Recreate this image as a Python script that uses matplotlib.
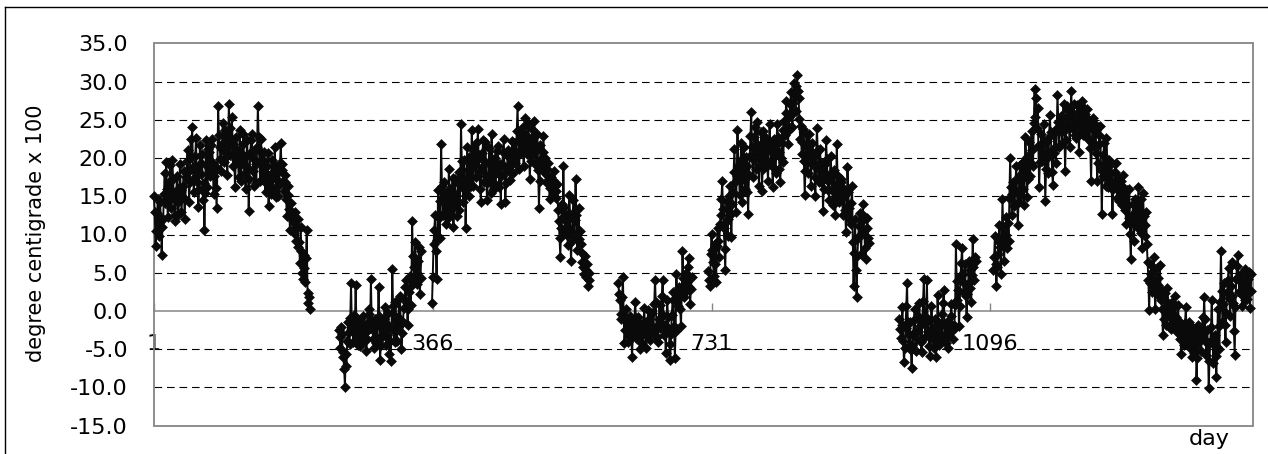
import numpy as np
import matplotlib
matplotlib.use("Agg")
import matplotlib.pyplot as plt
from matplotlib.lines import Line2D
from matplotlib.patches import Rectangle

# Daily temperature record; breaks between segments are missing records.
seg1_start = 1
seg1 = [15.0, 12.9, 8.5, 10.4, 12.8, 14.6, 11.5, 9.8, 14.2, 12.2, 7.3, 11.0, 12.0, 15.3,
        18.0, 14.1, 19.5, 16.0, 12.3, 14.4, 16.8, 19.1, 13.5, 15.7, 19.8, 17.2, 14.9, 12.6,
        11.8, 15.0, 17.6, 14.3, 12.5, 16.1, 19.2, 15.8, 13.0, 14.8, 16.4, 18.3, 12.0, 14.6,
        17.5, 19.6, 21.0, 18.2, 14.3, 16.9, 22.5, 20.1, 24.1, 18.8, 15.6, 17.4, 20.3, 22.6,
        16.8, 19.0, 13.6, 15.9, 21.7, 19.4, 17.9, 20.5, 14.5, 16.7, 10.6, 15.4, 22.3, 18.9,
        16.2, 21.2, 20.8, 17.6, 18.4, 21.7, 22.5, 19.3, 15.3, 17.7, 19.0, 16.1, 13.4, 18.6,
        26.8, 23.0, 21.5, 19.9, 18.3, 21.2, 24.6, 22.0, 19.5, 23.7, 22.8, 20.3, 17.8, 21.6,
        27.0, 23.9, 20.4, 22.2, 25.3, 21.8, 18.9, 20.6, 16.2, 19.7, 22.7, 21.0, 19.4, 17.5,
        23.6, 20.8, 17.0, 19.6, 21.8, 23.1, 19.1, 18.0, 16.0, 20.2, 22.4, 18.7, 13.1, 17.2,
        20.6, 22.3, 23.2, 20.0, 18.3, 16.4, 21.0, 19.2, 16.7, 21.5, 26.8, 22.7, 19.5, 17.0,
        22.5, 20.6, 17.3, 19.8, 20.8, 16.9, 15.6, 18.1, 18.9, 20.7, 13.7, 16.4, 17.2, 15.3,
        19.8, 18.0, 16.1, 17.9, 21.4, 19.0, 14.9, 17.1, 18.2, 15.0, 16.5, 19.3, 22.0, 18.4,
        19.2, 17.0, 15.7, 16.8, 17.8, 14.6, 12.4, 15.1, 16.3, 13.3, 10.6, 12.9, 14.1, 12.7,
        11.8, 10.2, 13.0, 11.4, 9.2, 10.9, 12.0, 8.4, 9.0, 6.3, 11.0, 7.9, 5.0, 4.2,
        7.3, 5.6, 3.8, 6.9, 10.6, 2.4, 1.0, 1.8, 0.3]

seg2_start = 243
seg2 = [-2.5, -3.4, -4.8, -2.1, -3.0, -5.3, -6.0, -7.6, -9.9, -5.6, -7.2, -3.9, -1.5, -2.7,
        -4.3, -0.9, 3.6, -1.7, -2.8, -4.1, -0.5, -2.3, 3.4, -1.4, -3.3, -4.5, -1.2, -2.6,
        -4.6, -3.1, -2.0, -4.0, -0.6, -1.9, -3.8, -2.8, -5.2, -3.6, -1.5, -0.4, 0.3, -2.2,
        4.2, -1.3, -2.4, -3.7, -4.9, -2.0, -1.0, -4.2, -3.5, -1.6, 3.1, -0.7, -6.4, -4.5,
        -2.2, -3.4, -3.0, -1.1, 0.5, -2.6, -4.4, -3.2, -1.8, -0.3, -5.6, -3.9, -6.5, -2.4,
        5.5, 0.7, -2.5, -4.1, 1.2, -0.9, -3.9, -2.1, -0.8, 1.6, 2.0, -1.4, -5.0, -2.9,
        -1.5, 0.4, 1.5, 3.2, 4.1, 1.0, -1.8, 0.3, 2.5, 4.6, 0.8, 3.3, 11.7, 7.2,
        5.8, 3.9, 9.0, 6.1, 3.5, 5.0, 6.5, 8.4, 2.2, 4.3, 7.8]

seg3_start = 365
seg3 = [1.0, 4.5, 8.8, 10.6, 12.5, 7.8, 4.2, 9.3, 15.8, 12.1, 9.5, 14.4, 21.8, 16.3,
        12.6, 14.9, 16.8, 13.0, 11.4, 15.6, 14.7, 12.2, 18.6, 16.0, 12.9, 14.1, 15.5, 17.4,
        11.0, 13.8, 17.3, 15.1, 14.0, 12.4, 16.9, 18.2, 13.2, 16.5, 24.4, 19.6, 16.1, 14.2,
        19.8, 17.0, 10.9, 15.8, 21.5, 18.4, 15.0, 20.1, 18.7, 16.3, 23.6, 21.2, 16.4, 18.9,
        20.2, 22.0, 17.5, 19.8, 23.8, 20.4, 18.2, 16.0, 14.3, 18.8, 20.6, 22.4, 16.9, 19.5,
        22.1, 17.7, 14.5, 16.8, 19.4, 21.3, 17.3, 15.4, 23.1, 19.9, 15.8, 18.5, 20.0, 16.6,
        18.1, 20.9, 21.6, 18.7, 16.2, 19.2, 14.0, 17.6, 19.2, 20.8, 22.5, 18.0, 14.3, 16.7,
        18.6, 20.3, 21.0, 18.8, 17.1, 19.9, 20.4, 22.2, 18.0, 20.6, 21.9, 19.3, 20.2, 23.5,
        26.8, 22.4, 18.5, 21.0, 23.4, 20.7, 21.1, 24.0, 19.0, 21.8, 25.2, 23.0, 22.6, 20.5,
        24.6, 21.9, 17.3, 19.6, 22.0, 23.8, 20.5, 22.7, 24.8, 20.9, 19.1, 21.4, 23.2, 18.4,
        13.5, 17.0, 21.7, 19.9, 18.6, 20.8, 22.9, 18.2, 20.0, 16.9, 17.8, 18.6, 19.4, 16.8,
        14.6, 16.1, 17.5, 15.9, 15.2, 17.1, 18.3, 16.4, 14.8, 15.7, 16.6, 13.2, 11.8, 9.6,
        7.1, 10.8, 14.0, 12.3, 18.9, 13.6, 10.2, 11.7, 12.5, 9.9, 8.6, 12.8, 15.2, 10.7,
        6.5, 9.1, 12.0, 14.5, 9.5, 11.9, 17.3, 12.6, 8.0, 10.3, 13.4, 9.4, 10.5, 8.7,
        7.6, 6.4, 5.8, 4.9, 7.2, 5.3, 4.4, 6.1, 3.3, 4.0, 5.0]

seg4_start = 609
seg4 = [3.6, 2.2, 1.5, -0.4, -1.0, 1.8, 4.4, -0.7, -4.2, -2.5, 0.2, -1.3, -2.1, -4.0,
        -3.3, -0.6, -1.4, -3.5, -6.0, -2.8, -2.5, -1.2, 1.2, -0.9, -3.6, -2.0, -0.8, -3.1,
        -5.0, -1.7, -1.9, -4.2, -3.0, -1.4, 0.4, -2.6, -4.9, -3.3, -2.2, 0.1, -1.1, -2.9,
        -3.8, -1.8, -0.3, -2.4, -2.7, 0.9, 4.1, 1.2, -2.0, -3.4, -4.0, -1.1, 0.8, -2.2,
        -1.6, 1.9, 4.0, -0.5, -3.1, -1.8, -5.5, -2.7, 1.5, -0.8, -2.4, -4.3, -6.4, -3.0,
        -0.5, 1.4, 2.5, -1.9, -6.2, -2.6, 4.9, 1.7, 0.6, 2.8, 3.2, 0.3, -2.0, 2.1,
        7.9, 4.3, 1.8, 3.5, 5.0, 2.6, 3.8, 5.8, 6.9, 3.1, 0.9, 2.9, 4.5]

seg5_start = 727
seg5 = [5.2, 4.1, 3.3, 7.5, 10.1, 8.0, 6.4, 4.6, 8.8, 6.2, 3.8, 8.5, 10.8, 9.2,
        7.0, 11.4, 12.5, 14.6, 17.0, 13.3, 10.9, 8.1, 5.4, 11.6, 14.2, 9.8, 12.0, 15.0,
        16.3, 12.7, 9.7, 14.0, 15.5, 18.2, 21.2, 16.8, 13.0, 17.6, 23.6, 19.0, 17.4, 15.1,
        19.8, 21.9, 14.2, 18.0, 21.5, 17.3, 16.0, 20.1, 19.0, 15.6, 12.7, 17.8, 20.2, 22.9,
        26.0, 21.4, 17.5, 19.7, 22.8, 24.1, 18.6, 20.9, 24.7, 21.7, 16.3, 19.1, 21.0, 23.4,
        15.7, 18.5, 23.5, 20.7, 19.4, 22.6, 22.1, 19.0, 17.0, 21.2, 24.4, 22.0, 19.6, 21.5,
        16.2, 18.8, 22.5, 20.3, 18.0, 21.7, 24.4, 22.8, 20.8, 18.6, 16.9, 20.0, 22.0, 23.6,
        19.5, 24.8, 23.0, 25.9, 27.5, 24.3, 21.8, 23.7, 25.4, 27.0, 28.6, 25.8, 24.0, 27.2,
        29.8, 28.1, 26.2, 29.4, 30.9, 28.8, 27.9, 25.1, 22.5, 24.2, 20.5, 22.1, 23.8, 19.6,
        15.2, 18.3, 21.4, 23.0, 18.0, 20.7, 23.2, 21.0, 16.4, 19.2, 22.0, 20.4, 19.3, 17.5,
        15.0, 20.6, 23.9, 21.1, 18.6, 16.8, 21.2, 19.4, 16.8, 18.7, 13.1, 16.0, 19.2, 17.4,
        22.3, 19.9, 17.0, 15.8, 14.5, 17.9, 20.2, 18.1, 15.8, 13.9, 18.4, 16.2, 12.5, 15.4,
        21.8, 17.7, 16.0, 14.3, 14.6, 16.9, 17.2, 14.8, 12.6, 15.9, 15.0, 13.2, 10.3, 12.8,
        18.8, 15.5, 13.5, 11.9, 11.4, 14.1, 16.4, 9.0, 3.3, 7.6, 12.0, 5.4, 1.8, 7.2,
        9.5, 11.1, 12.8, 10.0, 7.5, 11.7, 14.0, 12.4, 10.4, 8.2, 6.8, 10.9, 12.2, 9.6,
        8.9]

seg6_start = 977
seg6 = [-1.0, -2.4, -3.5, -1.8, 0.5, -3.9, -6.7, -4.8, -2.2, 0.6, 3.6, -1.5, -4.6, -3.2,
        -1.5, -5.1, -7.5, -4.4, -3.0, -1.2, 0.2, -2.7, -5.2, -3.6, -2.6, -0.7, 1.1, -2.0,
        -4.0, -5.4, -1.2, 1.3, 4.2, -0.9, -3.4, -1.6, 4.0, -1.1, -2.8, -4.6, -5.9, -3.3,
        0.6, -2.2, -3.7, -4.9, -1.0, -2.8, -6.0, -3.7, 2.1, -1.4, -4.4, -2.9, -2.0, -3.8,
        -0.4, 1.0, 2.7, -1.6, -3.1, -4.2, -1.4, -2.5, -4.8, -3.3, -2.5, -0.6, 0.9, -1.9,
        -3.6, -2.4, -1.8, 0.8, 8.8, 3.9, 1.5, 2.8, -2.0, 0.7, 4.6, 6.3, 8.3, 4.9,
        2.4, 3.7, 6.2, 1.9, -0.8, 2.2, 3.5, 6.6, 5.4, 3.0, 1.2, 4.7, 9.4, 5.8,
        4.0, 7.1, 6.5]

seg7_start = 1100
seg7 = [5.3, 7.0, 9.8, 6.1, 3.3, 5.7, 7.5, 9.0, 11.2, 8.4, 4.8, 9.6, 14.6, 10.8,
        6.6, 8.7, 10.0, 12.3, 8.2, 11.5, 9.2, 14.8, 20.0, 16.2, 12.5, 15.3, 16.8, 13.7,
        14.0, 17.0, 18.9, 15.5, 11.3, 14.2, 17.6, 19.1, 15.2, 17.8, 19.4, 16.0, 13.8, 18.5,
        22.7, 20.0, 14.9, 17.3, 20.3, 22.1, 17.6, 19.4, 23.5, 21.0, 19.0, 24.6, 29.0, 25.3,
        27.8, 23.9, 26.5, 21.6, 16.2, 19.5, 21.8, 23.2, 19.6, 21.7, 24.4, 20.5, 14.4, 18.6,
        22.2, 20.1, 18.0, 22.8, 25.6, 23.4, 20.9, 18.2, 16.5, 20.7, 23.3, 21.4, 19.4, 23.9,
        28.3, 24.7, 21.5, 23.6, 25.5, 24.0, 22.0, 25.3, 27.0, 23.5, 18.3, 22.4, 24.6, 26.8,
        26.2, 24.1, 21.4, 25.7, 28.8, 26.0, 23.8, 27.1, 25.1, 23.0, 22.6, 24.9, 26.9, 25.4,
        20.8, 23.3, 24.3, 26.1, 27.4, 24.5, 23.0, 26.6, 25.8, 24.2, 26.4, 23.7, 22.5, 25.0,
        24.8, 21.3, 17.0, 22.0, 25.2, 23.8, 21.6, 24.5, 23.6, 20.6, 17.0, 19.3, 21.8, 23.0,
        24.2, 18.4, 12.7, 17.6, 20.4, 21.9, 18.5, 16.3, 22.6, 19.7, 16.2, 18.9, 19.8, 17.1,
        18.0, 15.9, 12.7, 16.0, 16.5, 18.2, 19.4, 16.9, 14.8, 17.5, 17.3, 14.4, 15.6, 17.0,
        13.9, 16.3, 17.8, 14.1, 15.0, 13.2, 11.4, 15.8, 13.8, 12.2, 16.0, 10.1, 6.8, 11.6,
        12.5, 14.0, 9.2, 12.1, 14.6, 11.9, 11.0, 13.5, 16.2, 10.8, 12.8, 14.7, 10.2, 8.3,
        15.4, 12.4, 9.8, 11.2, 13.0, 8.7, 6.4, 4.1, 0.1, 3.6, 4.8, 6.0, 2.5, 5.2,
        7.0, 3.1, 0.2, 2.7, 5.6, 4.3, 3.4, 1.9, 6.0, 2.9, 1.5, 0.2, -3.2, -1.1,
        0.4, 2.3, -1.8, -0.4, 3.0, 1.1, -0.6, -2.0, -2.4, 0.1, 1.2, -1.9, -1.0, 0.6,
        2.0, -0.8, -2.8, -1.2, 0.8, -2.3, -1.5, -3.6, -5.6, -3.0, -2.0, -4.4, -3.8, -1.6,
        0.5, -2.7, -4.2, -3.1, -1.4, -4.9, -3.0, -1.9, -6.0, -3.7, -2.5, -5.5, -4.8, -2.9,
        -9.0, -6.1, -1.8, -4.0, -3.5, -2.2, -5.2, -3.4, -0.8, -2.6, 1.8, -1.0, -3.9, -5.8,
        -2.5, -4.3, -10.1, -6.6, -4.0, -2.1, 1.5, -3.8, -6.8, -4.5, -3.2, -5.9, -8.6, -4.7,
        0.3, -2.0, -5.0, 1.2, 7.9, 2.6, -1.5, 0.9, 3.6, -1.8, -4.0, -0.3, 2.4, 4.0,
        5.6, 1.7, -0.6, 3.3, 6.4, 2.0, 1.0, -2.6, -5.8, 0.5, 4.2, 5.9, 7.3, 4.5,
        2.5, 3.9, 4.9, 2.1, 0.6, 3.0, 3.8, 1.4, 5.5, 4.0, 1.6, 2.8, 4.2, 5.1,
        0.4, 2.6, 4.9]

segments = [(seg1_start, seg1), (seg2_start, seg2), (seg3_start, seg3),
            (seg4_start, seg4), (seg5_start, seg5), (seg6_start, seg6),
            (seg7_start, seg7)]

y_ticks = [-15, -10, -5, 0, 5, 10, 15, 20, 25, 30, 35]
x_ticks = [1, 366, 731, 1096]
x_tick_labels = ["1", "366", "731", "1096"]
y_label = "degree centigrade x 100"
x_label = "day"

W, H, DPI = 1268, 454, 100
GRAY = "#858585"
plt.rcParams["font.family"] = ["DejaVu Sans"]
plt.rcParams["lines.scale_dashes"] = False

fig = plt.figure(figsize=(W / DPI, H / DPI), dpi=DPI)
L, R, T, B = 154, 1253, 43.3, 425.7
ax = fig.add_axes([L / W, 1 - B / H, (R - L) / W, (B - T) / H])

for start, vals in segments:
    days = np.arange(start, start + len(vals))
    ax.plot(days, vals, color="#0a0a0a", lw=1.4, marker="D", ms=5.3,
            mfc="#0a0a0a", mec="#0a0a0a", mew=0.4, clip_on=False, zorder=3)

ax.set_xlim(2, 1440)
ax.set_ylim(-15, 35)
ax.set_yticks(y_ticks)
ax.set_yticklabels([f"{v:.1f}" for v in y_ticks])
ax.set_xticks(x_ticks)
ax.set_xticklabels(x_tick_labels)

# dashed horizontal gridlines (not at the frame edges or the zero axis)
ax.grid(axis="y", color="black", lw=0.8, linestyle=(0, (5.5, 3.5)))
for v, gl in zip(y_ticks, ax.yaxis.get_gridlines()):
    if v in (-15, 0, 35):
        gl.set_visible(False)
ax.set_axisbelow(True)

for side in ("top", "right", "left"):
    ax.spines[side].set_visible(False)
ax.spines["bottom"].set_position(("data", 0))
ax.spines["bottom"].set_color(GRAY)
ax.spines["bottom"].set_linewidth(1.1)
ax.add_patch(Rectangle((0, 0), 1, 1, transform=ax.transAxes, fill=False,
                       ec=GRAY, lw=1.3, clip_on=False, zorder=2))

ax.tick_params(axis="y", length=0, pad=18.7, labelsize=16, labelcolor="black")
ax.tick_params(axis="x", direction="in", length=5.8, width=1.0, color=GRAY,
               pad=16.5, labelsize=16, labelcolor="black")

fig.text(36 / W, 1 - 233 / H, y_label, rotation=90, ha="center", va="center",
         fontsize=15)
fig.text(1209 / W, 1 - 439 / H, x_label, ha="center", va="center", fontsize=16)

# outer chart border (left and top edges)
fig.add_artist(Line2D([4.5 / W, 4.5 / W], [0, 1 - 7 / H], transform=fig.transFigure,
                      color="black", lw=1.0))
fig.add_artist(Line2D([4.5 / W, 1], [1 - 7 / H, 1 - 7 / H], transform=fig.transFigure,
                      color="black", lw=1.0))

fig.savefig("out.png", dpi=DPI)
